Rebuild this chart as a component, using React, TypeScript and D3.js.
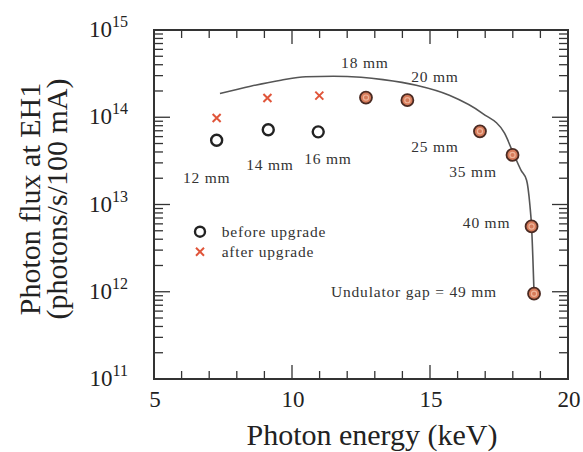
import React from "react";
import * as d3 from "d3";

const W = 583;
const H = 452;

// before upgrade (open black circles)
const beforeE = [7.27, 9.14, 10.95];
const beforeFlux = [5.45e13, 7.2e13, 6.8e13];

// after upgrade (red crosses)
const afterE = [7.27, 9.11, 10.99];
const afterFlux = [9.8e13, 1.66e14, 1.77e14];

// points where both coincide (filled circles)
const bothE = [12.68, 14.18, 16.81, 17.99, 18.68, 18.77];
const bothFlux = [1.68e14, 1.57e14, 6.9e13, 3.7e13, 5.6e12, 9.5e11];

// calculated curve
const curveE = [7.39, 8.5, 9.6, 10.5, 11.5, 12.5, 13.3, 14.5, 15.7, 16.9, 17.7, 18.0, 18.3, 18.5, 18.62, 18.68, 18.77];
const curveFlux = [1.87e14, 2.27e14, 2.66e14, 2.91e14, 2.95e14, 2.87e14, 2.7e14, 2.33e14, 1.79e14, 1.11e14, 6.56e13, 4.0e13, 2.46e13, 1.9e13, 9.8e12, 5.6e12, 9.5e11];

// annotations
const labelText = ["12 mm", "14 mm", "16 mm", "18 mm", "20 mm", "25 mm", "35 mm", "40 mm", "Undulator gap = 49 mm"];
const labelE = [6.91, 9.2, 11.3, 12.64, 15.18, 15.18, 16.56, 17.05, 14.42];
const labelFlux = [1.75e13, 2.47e13, 2.89e13, 3.65e14, 2.52e14, 3.97e13, 2.05e13, 5.35e12, 8.65e11];

const xTicks = [5, 10, 15, 20];
const xMinor = d3.range(5, 21, 1);
const yExps = [11, 12, 13, 14, 15];

const legendLabels = ["before upgrade", "after upgrade"];

const FONT = "Liberation Serif, Times New Roman, Times, serif";
const RED = "#e0553a";
const FRAME = "#333";

export default function App() {
  const x = d3.scaleLinear().domain([5, 20]).range([154, 568]);
  const y = d3.scaleLog().domain([1e11, 1e15]).range([379, 30]);
  const [x0, x1] = x.range();
  const [y0, y1] = [y(1e11), y(1e15)];

  const line = d3
    .line<number>()
    .x((_, i) => x(curveE[i]))
    .y((_, i) => y(curveFlux[i]))
    .curve(d3.curveMonotoneX);

  const yMinor: number[] = [];
  for (let e = 11; e < 15; e++) {
    for (let m = 2; m <= 9; m++) yMinor.push(m * Math.pow(10, e));
  }

  const crossPath = (cx: number, cy: number, s: number) =>
    `M${cx - s},${cy - s}L${cx + s},${cy + s}M${cx - s},${cy + s}L${cx + s},${cy - s}`;

  return (
    <svg width={W} height={H} style={{ position: "absolute", left: 0, top: 0, background: "#fff", fontFamily: FONT }}>
      {/* ticks */}
      <g stroke={FRAME} strokeWidth={1.3}>
        {xMinor.map((v) => {
          const major = v % 5 === 0;
          const len = major ? 14 : 8;
          return (
            <g key={"xt" + v}>
              <line x1={x(v)} x2={x(v)} y1={y0} y2={y0 - len} />
              <line x1={x(v)} x2={x(v)} y1={y1} y2={y1 + len} />
            </g>
          );
        })}
        {yExps.map((e) => {
          const v = Math.pow(10, e);
          return (
            <g key={"ym" + e}>
              <line x1={x0} x2={x0 + 16} y1={y(v)} y2={y(v)} />
              <line x1={x1} x2={x1 - 16} y1={y(v)} y2={y(v)} />
            </g>
          );
        })}
        {yMinor.map((v, i) => (
          <g key={"yn" + i}>
            <line x1={x0} x2={x0 + 9} y1={y(v)} y2={y(v)} />
            <line x1={x1} x2={x1 - 9} y1={y(v)} y2={y(v)} />
          </g>
        ))}
      </g>
      <rect x={x0} y={y1} width={x1 - x0} height={y0 - y1} fill="none" stroke={FRAME} strokeWidth={2} />

      {/* tick labels */}
      {xTicks.map((v) => (
        <text key={"xl" + v} x={x(v) + 1} y={407} textAnchor="middle" fontSize={23} fill="#222">
          {v}
        </text>
      ))}
      {yExps.map((e) => (
        <text key={"yl" + e} x={128} y={y(Math.pow(10, e)) + 7} textAnchor="end" fontSize={23} fill="#222">
          10
          <tspan fontSize={16} dy={-10}>
            {e}
          </tspan>
        </text>
      ))}

      {/* axis titles */}
      <text x={372} y={445} textAnchor="middle" fontSize={30} fill="#222">
        Photon energy (keV)
      </text>
      <text transform="translate(40,199) rotate(-90)" textAnchor="middle" fontSize={30} fill="#222">
        Photon flux at EH1
      </text>
      <text transform="translate(67,199) rotate(-90)" textAnchor="middle" fontSize={30} fill="#222">
        (photons/s/100 mA)
      </text>

      {/* curve */}
      <path d={line(curveE) || ""} fill="none" stroke="#555" strokeWidth={1.6} />

      {/* before */}
      {beforeE.map((e, i) => (
        <circle key={"b" + i} cx={x(e)} cy={y(beforeFlux[i])} r={5.5} fill="none" stroke="#222" strokeWidth={2.4} />
      ))}
      {/* after */}
      {afterE.map((e, i) => (
        <path key={"a" + i} d={crossPath(x(e), y(afterFlux[i]), 4)} stroke={RED} strokeWidth={2} fill="none" />
      ))}
      {/* both */}
      {bothE.map((e, i) => (
        <g key={"c" + i}>
          <circle cx={x(e)} cy={y(bothFlux[i])} r={6} fill="#d67b5a" stroke="#4a2a22" strokeWidth={1.8} />
          <circle cx={x(e)} cy={y(bothFlux[i])} r={2.6} fill="none" stroke="#eeb49a" strokeWidth={1.2} />
        </g>
      ))}

      {/* annotations */}
      {labelText.map((t, i) => (
        <text
          key={"lab" + i}
          x={x(labelE[i])}
          y={y(labelFlux[i])}
          textAnchor="middle"
          fontSize={15.5}
          letterSpacing={0.8}
          fill="#333"
        >
          {t}
        </text>
      ))}

      {/* legend */}
      <circle cx={200} cy={231.7} r={5} fill="none" stroke="#222" strokeWidth={2.4} />
      <path d={crossPath(200, 251.7, 4)} stroke={RED} strokeWidth={2} fill="none" />
      {legendLabels.map((t, i) => (
        <text key={"lg" + i} x={221.7} y={236.5 + i * 20} fontSize={15.5} letterSpacing={0.8} fill="#333">
          {t}
        </text>
      ))}
    </svg>
  );
}
